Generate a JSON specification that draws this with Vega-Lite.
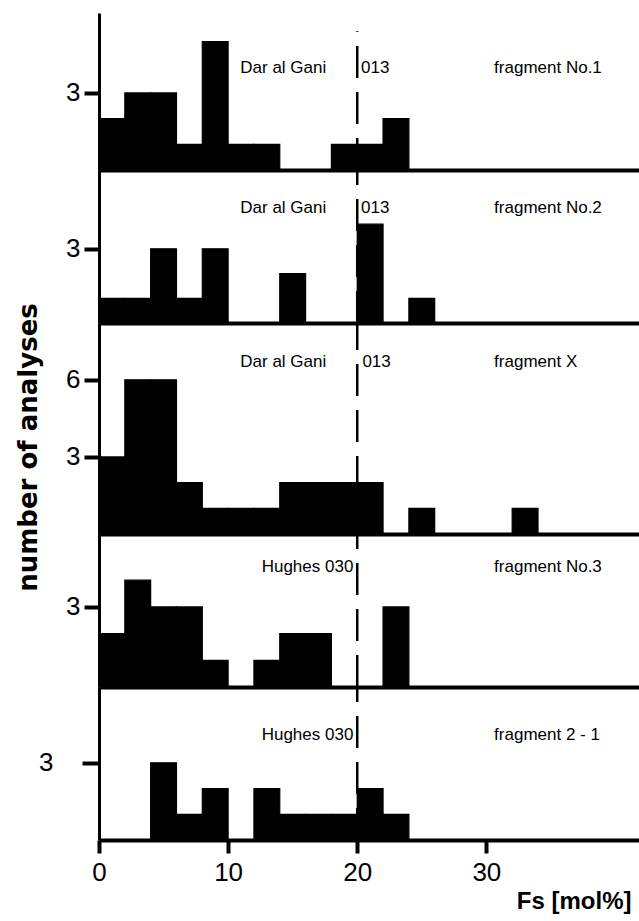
{
  "$schema": "https://vega.github.io/schema/vega-lite/v6.json",
  "background": "white",
  "autosize": {"type": "pad"},
  "padding": {"left": 14, "top": 13, "right": 0, "bottom": 5},
  "spacing": 0,
  "bounds": "flush",
  "config": {
    "view": {"stroke": null},
    "bar": {"color": "black", "stroke": "black", "strokeWidth": 1.2},
    "text": {"font": "Liberation Sans", "fontSize": 17, "color": "black", "baseline": "middle"},
    "axis": {"grid": false, "domainColor": "black", "tickColor": "black", "labelColor": "black", "labelFont": "Liberation Sans", "titleFont": "Liberation Sans", "titleColor": "black"}
  },
  "datasets": {
    "bins": [
      {"panel": 1, "lo": 0, "hi": 2, "n": 2}, {"panel": 1, "lo": 2, "hi": 4, "n": 3}, {"panel": 1, "lo": 4, "hi": 6, "n": 3}, {"panel": 1, "lo": 6, "hi": 8, "n": 1}, {"panel": 1, "lo": 8, "hi": 10, "n": 5}, {"panel": 1, "lo": 10, "hi": 12, "n": 1}, {"panel": 1, "lo": 12, "hi": 14, "n": 1}, {"panel": 1, "lo": 18, "hi": 20, "n": 1}, {"panel": 1, "lo": 20, "hi": 22, "n": 1}, {"panel": 1, "lo": 22, "hi": 24, "n": 2},
      {"panel": 2, "lo": 0, "hi": 2, "n": 1}, {"panel": 2, "lo": 2, "hi": 4, "n": 1}, {"panel": 2, "lo": 4, "hi": 6, "n": 3}, {"panel": 2, "lo": 6, "hi": 8, "n": 1}, {"panel": 2, "lo": 8, "hi": 10, "n": 3}, {"panel": 2, "lo": 14, "hi": 16, "n": 2}, {"panel": 2, "lo": 20, "hi": 22, "n": 4}, {"panel": 2, "lo": 24, "hi": 26, "n": 1},
      {"panel": 3, "lo": 0, "hi": 2, "n": 3}, {"panel": 3, "lo": 2, "hi": 4, "n": 6}, {"panel": 3, "lo": 4, "hi": 6, "n": 6}, {"panel": 3, "lo": 6, "hi": 8, "n": 2}, {"panel": 3, "lo": 8, "hi": 10, "n": 1}, {"panel": 3, "lo": 10, "hi": 12, "n": 1}, {"panel": 3, "lo": 12, "hi": 14, "n": 1}, {"panel": 3, "lo": 14, "hi": 16, "n": 2}, {"panel": 3, "lo": 16, "hi": 18, "n": 2}, {"panel": 3, "lo": 18, "hi": 20, "n": 2}, {"panel": 3, "lo": 20, "hi": 22, "n": 2}, {"panel": 3, "lo": 24, "hi": 26, "n": 1}, {"panel": 3, "lo": 32, "hi": 34, "n": 1},
      {"panel": 4, "lo": 0, "hi": 2, "n": 2}, {"panel": 4, "lo": 2, "hi": 4, "n": 4}, {"panel": 4, "lo": 4, "hi": 6, "n": 3}, {"panel": 4, "lo": 6, "hi": 8, "n": 3}, {"panel": 4, "lo": 8, "hi": 10, "n": 1}, {"panel": 4, "lo": 12, "hi": 14, "n": 1}, {"panel": 4, "lo": 14, "hi": 16, "n": 2}, {"panel": 4, "lo": 16, "hi": 18, "n": 2}, {"panel": 4, "lo": 22, "hi": 24, "n": 3},
      {"panel": 5, "lo": 4, "hi": 6, "n": 3}, {"panel": 5, "lo": 6, "hi": 8, "n": 1}, {"panel": 5, "lo": 8, "hi": 10, "n": 2}, {"panel": 5, "lo": 12, "hi": 14, "n": 2}, {"panel": 5, "lo": 14, "hi": 16, "n": 1}, {"panel": 5, "lo": 16, "hi": 18, "n": 1}, {"panel": 5, "lo": 18, "hi": 20, "n": 1}, {"panel": 5, "lo": 20, "hi": 22, "n": 2}, {"panel": 5, "lo": 22, "hi": 24, "n": 1}
    ],
    "labels": [
      {"panel": 1, "sample": "Dar al Gani", "code": "013", "fragment": "fragment No.1"},
      {"panel": 2, "sample": "Dar al Gani", "code": "013", "fragment": "fragment No.2"},
      {"panel": 3, "sample": "Dar al Gani", "code": "013", "fragment": "fragment X"},
      {"panel": 4, "sample": "Hughes 030", "code": "", "fragment": "fragment No.3"},
      {"panel": 5, "sample": "Hughes 030", "code": "", "fragment": "fragment 2 - 1"}
    ]
  },
  "vconcat": [
    {
      "width": 541, "height": 157,
      "layer": [
        {"data": {"name": "bins"}, "transform": [{"filter": "datum.panel == 1"}],
         "mark": {"type": "bar"},
         "encoding": {
           "x": {"field": "lo", "type": "quantitative", "scale": {"domain": [0, 41.9], "nice": false, "zero": false}, "axis": {"labels": false, "ticks": false, "domainWidth": 4, "title": null}},
           "x2": {"field": "hi"},
           "y": {"field": "n", "type": "quantitative", "scale": {"domain": [0, 6.11], "nice": false}, "axis": {"values": [3], "domainWidth": 3, "tickWidth": 4, "tickSize": 15, "labelFontSize": 26, "labelPadding": 4, "title": null}},
           "y2": {"datum": 0}
         }},
        {"data": {"name": "labels"}, "transform": [{"filter": "datum.panel == 1"}],
         "mark": {"type": "rule", "color": "black", "strokeWidth": 2.5, "strokeDash": [32, 14]},
         "encoding": {"x": {"datum": 20}, "y": {"datum": 0}, "y2": {"datum": 5.4}}},
        {"data": {"name": "labels"}, "transform": [{"filter": "datum.panel == 1"}],
         "mark": {"type": "text", "align": "right"},
         "encoding": {"x": {"datum": 17.6}, "y": {"datum": 3.97}, "text": {"field": "sample"}}},
        {"data": {"name": "labels"}, "transform": [{"filter": "datum.panel == 1"}],
         "mark": {"type": "text", "align": "left"},
         "encoding": {"x": {"datum": 20.3}, "y": {"datum": 3.97}, "text": {"field": "code"}}},
        {"data": {"name": "labels"}, "transform": [{"filter": "datum.panel == 1"}],
         "mark": {"type": "text", "align": "left"},
         "encoding": {"x": {"datum": 30.6}, "y": {"datum": 3.97}, "text": {"field": "fragment"}}}
      ]
    },
    {
      "width": 541, "height": 153,
      "layer": [
        {"data": {"name": "bins"}, "transform": [{"filter": "datum.panel == 2"}],
         "mark": {"type": "bar"},
         "encoding": {
           "x": {"field": "lo", "type": "quantitative", "scale": {"domain": [0, 41.9], "nice": false, "zero": false}, "axis": {"labels": false, "ticks": false, "domainWidth": 4, "title": null}},
           "x2": {"field": "hi"},
           "y": {"field": "n", "type": "quantitative", "scale": {"domain": [0, 6.19], "nice": false}, "axis": {"values": [3], "domainWidth": 3, "tickWidth": 4, "tickSize": 15, "labelFontSize": 26, "labelPadding": 4, "title": null}},
           "y2": {"datum": 0}
         }},
        {"data": {"name": "labels"}, "transform": [{"filter": "datum.panel == 2"}],
         "mark": {"type": "rule", "color": "black", "strokeWidth": 2.5, "strokeDash": [32, 14]},
         "encoding": {"x": {"datum": 20}, "y": {"datum": 0}, "y2": {"datum": 6.19}}},
        {"data": {"name": "labels"}, "transform": [{"filter": "datum.panel == 2"}],
         "mark": {"type": "text", "align": "right"},
         "encoding": {"x": {"datum": 17.6}, "y": {"datum": 4.65}, "text": {"field": "sample"}}},
        {"data": {"name": "labels"}, "transform": [{"filter": "datum.panel == 2"}],
         "mark": {"type": "text", "align": "left"},
         "encoding": {"x": {"datum": 20.3}, "y": {"datum": 4.65}, "text": {"field": "code"}}},
        {"data": {"name": "labels"}, "transform": [{"filter": "datum.panel == 2"}],
         "mark": {"type": "text", "align": "left"},
         "encoding": {"x": {"datum": 30.6}, "y": {"datum": 4.65}, "text": {"field": "fragment"}}}
      ]
    },
    {
      "width": 541, "height": 211,
      "layer": [
        {"data": {"name": "bins"}, "transform": [{"filter": "datum.panel == 3"}],
         "mark": {"type": "bar"},
         "encoding": {
           "x": {"field": "lo", "type": "quantitative", "scale": {"domain": [0, 41.9], "nice": false, "zero": false}, "axis": {"labels": false, "ticks": false, "domainWidth": 4, "title": null}},
           "x2": {"field": "hi"},
           "y": {"field": "n", "type": "quantitative", "scale": {"domain": [0, 8.21], "nice": false}, "axis": {"values": [3, 6], "domainWidth": 3, "tickWidth": 4, "tickSize": 15, "labelFontSize": 26, "labelPadding": 4, "title": "number of analyses", "titleFont": "DejaVu Sans", "titleFontSize": 26, "titleFontWeight": "bold", "titleAngle": 270, "titleX": -63, "titleY": 124, "titleAlign": "center", "titleBaseline": "alphabetic"}},
           "y2": {"datum": 0}
         }},
        {"data": {"name": "labels"}, "transform": [{"filter": "datum.panel == 3"}],
         "mark": {"type": "rule", "color": "black", "strokeWidth": 2.5, "strokeDash": [32, 14]},
         "encoding": {"x": {"datum": 20}, "y": {"datum": 0}, "y2": {"datum": 8.21}}},
        {"data": {"name": "labels"}, "transform": [{"filter": "datum.panel == 3"}],
         "mark": {"type": "text", "align": "right"},
         "encoding": {"x": {"datum": 17.6}, "y": {"datum": 6.7}, "text": {"field": "sample"}}},
        {"data": {"name": "labels"}, "transform": [{"filter": "datum.panel == 3"}],
         "mark": {"type": "text", "align": "left"},
         "encoding": {"x": {"datum": 20.4}, "y": {"datum": 6.7}, "text": {"field": "code"}}},
        {"data": {"name": "labels"}, "transform": [{"filter": "datum.panel == 3"}],
         "mark": {"type": "text", "align": "left"},
         "encoding": {"x": {"datum": 30.6}, "y": {"datum": 6.7}, "text": {"field": "fragment"}}}
      ]
    },
    {
      "width": 541, "height": 153,
      "layer": [
        {"data": {"name": "bins"}, "transform": [{"filter": "datum.panel == 4"}],
         "mark": {"type": "bar"},
         "encoding": {
           "x": {"field": "lo", "type": "quantitative", "scale": {"domain": [0, 41.9], "nice": false, "zero": false}, "axis": {"labels": false, "ticks": false, "domainWidth": 4, "title": null}},
           "x2": {"field": "hi"},
           "y": {"field": "n", "type": "quantitative", "scale": {"domain": [0, 5.73], "nice": false}, "axis": {"values": [3], "domainWidth": 3, "tickWidth": 4, "tickSize": 15, "labelFontSize": 26, "labelPadding": 4, "title": null}},
           "y2": {"datum": 0}
         }},
        {"data": {"name": "labels"}, "transform": [{"filter": "datum.panel == 4"}],
         "mark": {"type": "rule", "color": "black", "strokeWidth": 2.5, "strokeDash": [32, 14]},
         "encoding": {"x": {"datum": 20}, "y": {"datum": 0}, "y2": {"datum": 5.73}}},
        {"data": {"name": "labels"}, "transform": [{"filter": "datum.panel == 4"}],
         "mark": {"type": "text", "align": "right"},
         "encoding": {"x": {"datum": 19.7}, "y": {"datum": 4.5}, "text": {"field": "sample"}}},
        {"data": {"name": "labels"}, "transform": [{"filter": "datum.panel == 4"}],
         "mark": {"type": "text", "align": "left"},
         "encoding": {"x": {"datum": 30.6}, "y": {"datum": 4.5}, "text": {"field": "fragment"}}}
      ]
    },
    {
      "width": 541, "height": 153,
      "layer": [
        {"data": {"name": "bins"}, "transform": [{"filter": "datum.panel == 5"}],
         "mark": {"type": "bar"},
         "encoding": {
           "x": {"field": "lo", "type": "quantitative", "scale": {"domain": [0, 41.9], "nice": false, "zero": false}, "axis": {"values": [0, 10, 20, 30], "domainWidth": 4, "tickWidth": 4, "tickSize": 13, "labelFontSize": 26, "labelPadding": 6, "labelFlush": false, "title": "Fs [mol%]", "titleFontSize": 24, "titleFontWeight": "bold", "titleX": 532, "titleY": 61, "titleAlign": "right", "titleBaseline": "middle"}},
           "x2": {"field": "hi"},
           "y": {"field": "n", "type": "quantitative", "scale": {"domain": [0, 5.95], "nice": false}, "axis": {"values": [3], "domainWidth": 3, "tickWidth": 4, "tickSize": 17, "labelFontSize": 26, "labelPadding": 29, "title": null}},
           "y2": {"datum": 0}
         }},
        {"data": {"name": "labels"}, "transform": [{"filter": "datum.panel == 5"}],
         "mark": {"type": "rule", "color": "black", "strokeWidth": 2.5, "strokeDash": [32, 14]},
         "encoding": {"x": {"datum": 20}, "y": {"datum": 0}, "y2": {"datum": 5.95}}},
        {"data": {"name": "labels"}, "transform": [{"filter": "datum.panel == 5"}],
         "mark": {"type": "text", "align": "right"},
         "encoding": {"x": {"datum": 19.7}, "y": {"datum": 4.08}, "text": {"field": "sample"}}},
        {"data": {"name": "labels"}, "transform": [{"filter": "datum.panel == 5"}],
         "mark": {"type": "text", "align": "left"},
         "encoding": {"x": {"datum": 30.6}, "y": {"datum": 4.08}, "text": {"field": "fragment"}}}
      ]
    }
  ]
}
